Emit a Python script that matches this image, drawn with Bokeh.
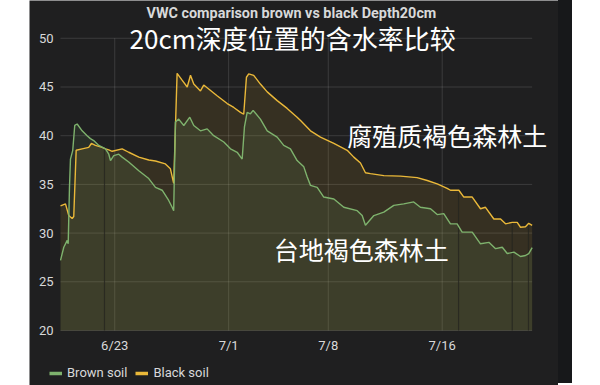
import numpy as np
from bokeh.plotting import figure
from bokeh.models import Range1d, FixedTicker, Label, Legend, LegendItem, Spacer
from bokeh.layouts import row
from bokeh.embed import file_html
from bokeh.resources import INLINE

# x values: day number counted from June 0 (6/23 = 23, 7/1 = 31 ...)
tick_days = [23, 31, 38, 46]
tick_labels = ["6/23", "7/1", "7/8", "7/16"]
y_ticks = [20, 25, 30, 35, 40, 45, 50]

black_days = [19.19, 19.54, 19.77, 20.01, 20.12, 20.29, 20.71, 21.17, 21.36, 21.64,
              22.11, 22.35, 22.58, 22.82, 23.52, 23.98, 24.69, 25.39, 25.86, 26.56,
              26.91, 27.14, 27.38, 27.73, 28.09, 28.32, 28.55, 29.02, 29.25, 29.60,
              30.19, 30.90, 31.36, 31.83, 32.06, 32.25, 32.41, 32.76, 33.23, 33.71,
              34.41, 35.11, 35.81, 36.05, 36.75, 37.45, 38.39, 39.33, 39.79, 40.26,
              40.61, 40.96, 41.90, 43.07, 44.24, 44.95, 45.65, 46.35, 46.58, 47.17,
              47.52, 48.11, 48.69, 49.04, 49.63, 50.10, 50.45, 50.92, 51.27, 51.50,
              51.85, 52.08, 52.32]
black_vwc = [32.8, 33.0, 31.8, 31.5, 31.7, 38.5, 38.65, 38.8, 39.2, 39.0,
             38.8, 38.65, 38.55, 38.4, 38.65, 38.3, 37.8, 37.5, 37.4, 37.1,
             36.6, 35.1, 46.4, 45.7, 45.0, 46.2, 45.3, 44.6, 45.2, 44.8,
             44.1, 43.3, 42.9, 42.4, 42.2, 46.0, 46.35, 46.2, 45.3, 44.5,
             43.6, 42.8, 41.9, 41.55, 40.5, 39.85, 39.2, 38.5, 37.8, 37.2,
             36.2, 36.1, 35.9, 35.85, 35.7, 35.4, 35.05, 34.6, 34.4, 34.4,
             33.7, 33.7, 32.5, 32.65, 31.45, 31.45, 30.95, 31.1, 31.1, 30.6,
             30.65, 31.0, 30.8]

brown_days = [19.19, 19.42, 19.66, 19.73, 19.82, 19.89, 20.05, 20.19, 20.36, 20.71,
              21.06, 21.29, 21.52, 21.88, 22.35, 22.58, 22.70, 22.93, 23.28, 23.52,
              23.98, 24.69, 25.39, 25.86, 26.33, 26.79, 27.03, 27.14, 27.26, 27.49,
              27.85, 28.27, 28.55, 29.02, 29.49, 29.95, 30.66, 31.13, 31.60, 31.95,
              32.11, 32.30, 32.53, 32.72, 33.23, 33.71, 34.41, 34.87, 35.34, 35.81,
              36.28, 36.52, 36.75, 37.22, 37.68, 38.39, 39.09, 40.03, 40.38, 40.61,
              41.20, 41.90, 42.60, 43.30, 44.00, 44.47, 45.18, 45.65, 46.11, 46.58,
              47.05, 47.40, 48.11, 48.69, 49.28, 49.75, 50.22, 50.57, 51.04, 51.50,
              51.85, 52.08, 52.32]
brown_vwc = [27.2, 28.55, 29.25, 28.9, 34.7, 37.6, 38.5, 41.05, 41.2, 40.5,
             40.0, 39.7, 39.5, 39.0, 38.65, 38.1, 37.45, 37.95, 38.1, 37.8,
             37.3, 36.4, 35.6, 34.7, 34.4, 33.35, 32.65, 32.3, 41.4, 41.7,
             41.05, 41.9, 41.05, 40.5, 40.7, 40.0, 39.35, 38.65, 38.3, 37.6,
             40.9, 42.4, 42.25, 42.6, 41.7, 40.5, 39.85, 39.0, 38.65, 37.45,
             36.8, 35.75, 34.9, 34.7, 33.7, 33.5, 32.65, 32.3, 31.8, 30.8,
             31.8, 32.15, 32.85, 33.0, 33.2, 32.65, 32.5, 31.9, 32.0, 30.95,
             30.95, 30.1, 30.1, 28.9, 29.05, 28.4, 28.55, 27.9, 28.05, 27.6,
             27.7, 27.9, 28.5]

gap_days = [22.28, 47.15, 50.92, 52.06]

BG = "#1f1f20"
GREEN = "#7EB26D"
YELLOW = "#EAB839"
TXT = "#d8d9da"

x_lo, x_hi = black_days[0], black_days[-1]
y_lo, y_hi = y_ticks[0], y_ticks[-1]

# the frame covers the whole panel; axes are pinned to the data area edges
p = figure(width=529, height=385,
           x_range=Range1d(17.012, 54.17), y_range=Range1d(14.353, 53.88),
           output_backend="svg", toolbar_location=None,
           min_border_left=0, min_border_right=0, min_border_top=0, min_border_bottom=0,
           background_fill_color=BG, border_fill_color=BG, outline_line_color=None)

# grid limited to the data area
p.segment(x0=[x_lo] * len(y_ticks), y0=y_ticks, x1=[x_hi] * len(y_ticks), y1=y_ticks,
          line_color="#ffffff", line_alpha=0.13, line_width=1)
p.segment(x0=tick_days, y0=[y_lo] * len(tick_days), x1=tick_days, y1=[y_hi] * len(tick_days),
          line_color="#ffffff", line_alpha=0.13, line_width=1)

# fills
p.varea(x=black_days, y1=y_lo, y2=black_vwc, fill_color=YELLOW, fill_alpha=0.115)
p.varea(x=brown_days, y1=y_lo, y2=brown_vwc, fill_color=GREEN, fill_alpha=0.115)

# dark gap lines
gap_top = np.interp(gap_days, black_days, black_vwc)
p.segment(x0=gap_days, y0=[y_lo] * len(gap_days), x1=gap_days, y1=gap_top,
          line_color="#26261f", line_width=1.2, line_alpha=0.8)

p.line(black_days, black_vwc, line_color=YELLOW, line_width=1.4)
p.line(brown_days, brown_vwc, line_color=GREEN, line_width=1.4)

# axes
p.xaxis.ticker = FixedTicker(ticks=tick_days)
p.xaxis.major_label_overrides = {d: l for d, l in zip(tick_days, tick_labels)}
p.xaxis.fixed_location = y_lo
p.yaxis.ticker = FixedTicker(ticks=y_ticks)
p.yaxis.fixed_location = x_lo
for ax in (p.xaxis, p.yaxis):
    ax.axis_line_color = None
    ax.major_tick_line_color = None
    ax.minor_tick_line_color = None
    ax.major_tick_out = 0
    ax.major_tick_in = 0
    ax.minor_tick_out = 0
    ax.minor_tick_in = 0
    ax.major_label_text_color = TXT
    ax.major_label_text_font = "Roboto"
    ax.major_label_text_font_size = "13px"
p.yaxis.major_label_standoff = 7
p.xaxis.major_label_standoff = 8
p.xgrid.visible = False
p.ygrid.visible = False

# legend swatches: one-point lines (draw nothing in the plot, only the legend dash)
lg_brown = p.line(x=brown_days[:1], y=brown_vwc[:1], line_color=GREEN, line_width=3.5)
lg_black = p.line(x=black_days[:1], y=black_vwc[:1], line_color=YELLOW, line_width=3.5)
legend = Legend(items=[LegendItem(label="Brown soil", renderers=[lg_brown]),
                       LegendItem(label="Black soil", renderers=[lg_black])],
                orientation="horizontal", location=(20, 5),
                label_text_color=TXT, label_text_font="Roboto", label_text_font_size="13px",
                background_fill_alpha=0, border_line_alpha=0,
                glyph_width=13, glyph_height=14, padding=0, margin=0,
                spacing=8, label_standoff=5)
p.add_layout(legend, "center")

# texts
p.add_layout(Label(x=35.41, y=52.55, text="VWC comparison brown vs black Depth20cm",
                   text_align="center", text_baseline="middle", text_color=TXT,
                   text_font="Roboto", text_font_style="bold", text_font_size="14.4px"))
p.add_layout(Label(x=35.5, y=50.07, text="20cm深度位置的含水率比较",
                   text_align="center", text_baseline="middle", text_color="#ffffff",
                   text_font="Noto Sans CJK SC", text_font_size="26px"))
p.add_layout(Label(x=39.33, y=40.12, text="腐殖质褐色森林土",
                   text_align="left", text_baseline="middle", text_color="#ffffff",
                   text_font="Noto Sans CJK SC", text_font_size="25px"))
p.add_layout(Label(x=34.17, y=28.32, text="台地褐色森林土",
                   text_align="left", text_baseline="middle", text_color="#ffffff",
                   text_font="Noto Sans CJK SC", text_font_size="25px"))

left_pad = Spacer(width=29, height=385)
right_strip = Spacer(width=14, height=383, styles={"background-color": "#17181a"})
layout = row(left_pad, p, right_strip, spacing=0)

open("out.html", "w").write(file_html(layout, INLINE))
